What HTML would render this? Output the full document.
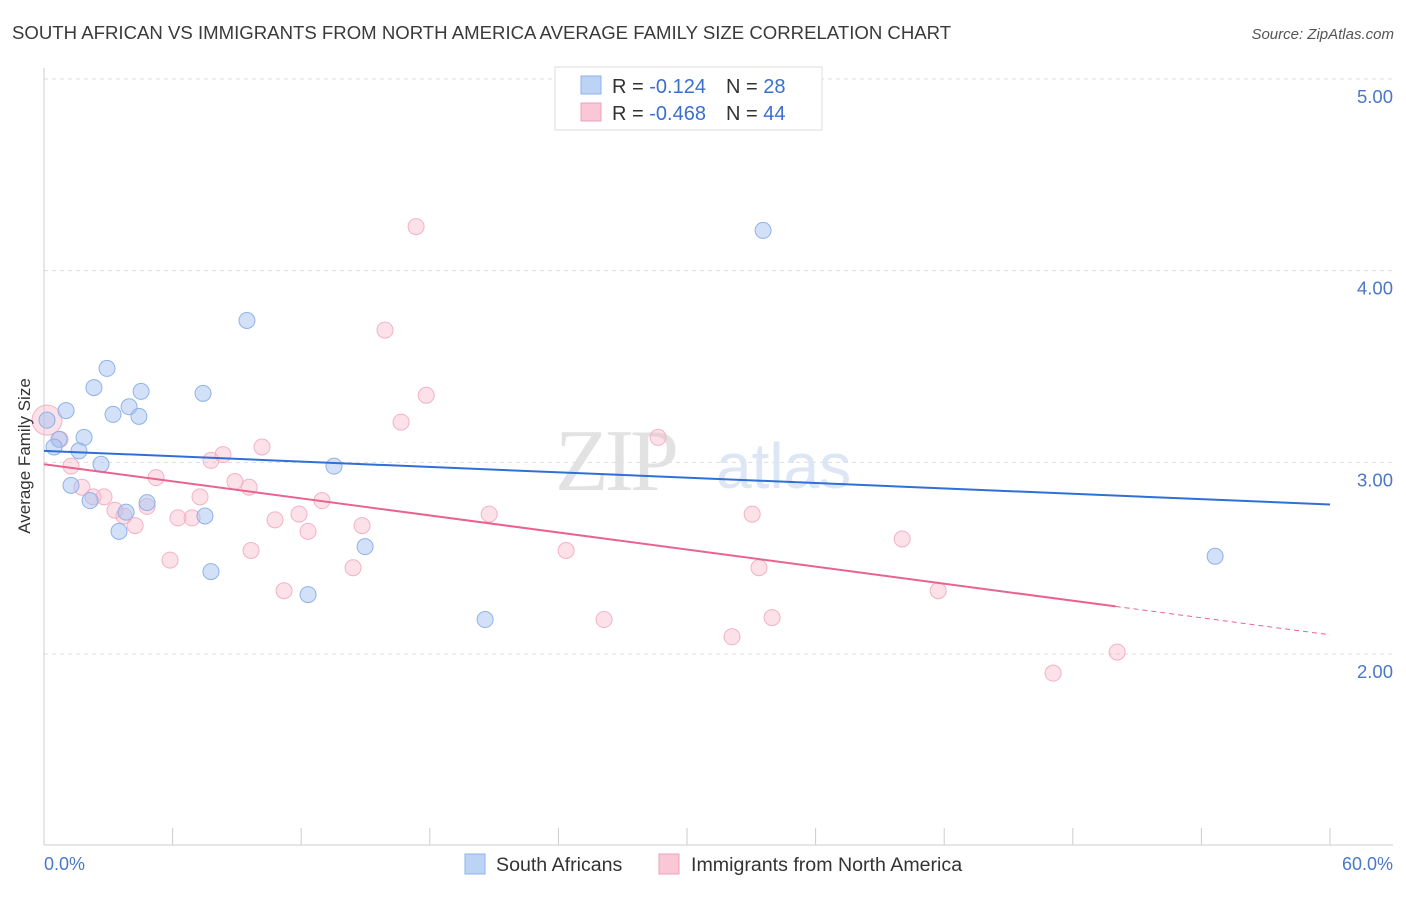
<!DOCTYPE html>
<html><head><meta charset="utf-8"><style>
body{margin:0;background:#fff;font-family:"Liberation Sans",sans-serif;}
</style></head><body>
<svg width="1406" height="892" viewBox="0 0 1406 892" xmlns="http://www.w3.org/2000/svg">
<text x="12" y="39" font-size="18.6" fill="#3a3a3a">SOUTH AFRICAN VS IMMIGRANTS FROM NORTH AMERICA AVERAGE FAMILY SIZE CORRELATION CHART</text>
<text x="1394" y="39" font-size="15" fill="#555" font-style="italic" text-anchor="end">Source: ZipAtlas.com</text>
<g id="grid"></g>
<g>
<text x="555" y="490" font-size="88" font-family="Liberation Serif,serif" fill="#e2e2e2" letter-spacing="-4">ZIP</text>
<text x="716" y="488" font-size="64" fill="#dde6f4">atlas</text>
</g>
<line x1="44" y1="68" x2="44" y2="845" stroke="#ccc"/>
<line x1="44" y1="845" x2="1393" y2="845" stroke="#ccc"/>
<g id="ticks"></g>
<g id="pts"></g>
<g id="trend"></g>
<text x="30" y="456" font-size="17" fill="#333" text-anchor="middle" transform="rotate(-90 30 456)">Average Family Size</text>
<text x="44" y="870" font-size="18" fill="#4a78c8">0.0%</text>
<text x="1393" y="870" font-size="18" fill="#4a78c8" text-anchor="end">60.0%</text>
<g>
<rect x="555" y="67" width="267" height="63" fill="#fff" stroke="#ddd"/>
<rect x="581" y="76" width="20" height="18" fill="#bcd3f5" stroke="#8fb0e8"/>
<rect x="581" y="103" width="20" height="18" fill="#f9c7d6" stroke="#f0a0b8"/>
<text x="612" y="93" font-size="20" fill="#333">R = <tspan fill="#3a6fd0">-0.124</tspan><tspan dx="20">N = </tspan><tspan fill="#3a6fd0">28</tspan></text>
<text x="612" y="120" font-size="20" fill="#333">R = <tspan fill="#3a6fd0">-0.468</tspan><tspan dx="20">N = </tspan><tspan fill="#3a6fd0">44</tspan></text>
</g>
<g>
<rect x="465" y="854" width="20" height="20" fill="#bcd3f5" stroke="#8fb0e8"/>
<text x="496" y="871" font-size="19.6" fill="#333">South Africans</text>
<rect x="659" y="854" width="20" height="20" fill="#f9c7d6" stroke="#f0a0b8"/>
<text x="691" y="871" font-size="19.6" fill="#333">Immigrants from North America</text>
</g>
</svg>
<script>
const yTicks=[2,3,4,5];
const yTickLabels=["2.00","3.00","4.00","5.00"];
const blueX=[1.03,0.70,1.87,2.33,2.94,3.22,3.97,4.53,4.43,1.63,1.26,2.66,2.15,3.50,3.83,4.81,7.42,7.51,7.79,9.47,12.32,13.53,14.98,20.58,33.55,54.64,0.47,0.14];
const blueY=[3.27,3.12,3.13,3.39,3.49,3.25,3.29,3.37,3.24,3.06,2.88,2.99,2.80,2.64,2.74,2.79,3.36,2.72,2.43,3.74,2.31,2.98,2.56,2.18,4.21,2.51,3.08,3.22];
const pinkX=[0.14,0.75,1.26,1.77,2.29,2.80,3.31,3.73,4.25,4.81,5.23,5.88,6.25,6.91,7.28,7.79,8.35,8.91,9.57,9.66,10.17,10.78,11.20,11.90,12.32,12.97,14.42,14.84,15.91,16.66,17.36,17.83,20.77,24.36,26.13,28.65,32.10,33.04,33.36,33.97,40.04,41.72,47.08,50.07];
const pinkY=[3.22,3.12,2.98,2.87,2.82,2.82,2.75,2.72,2.67,2.77,2.92,2.49,2.71,2.71,2.82,3.01,3.04,2.90,2.87,2.54,3.08,2.70,2.33,2.73,2.64,2.80,2.45,2.67,3.69,3.21,4.23,3.35,2.73,2.54,2.18,3.13,2.09,2.73,2.45,2.19,2.60,2.33,1.90,2.01];
const blueTrend=[3.06,2.78];
const pinkTrend=[2.99,2.10];
const pinkSolidEnd=50;
const NS="http://www.w3.org/2000/svg";
const xs=v=>44+v*(1286/60);
const ys=v=>79+(5-v)*191.67;
function mk(t,a,p){const e=document.createElementNS(NS,t);for(const k in a)e.setAttribute(k,a[k]);p.appendChild(e);return e;}
const grid=document.getElementById('grid');
yTicks.forEach((t,i)=>{
 const l=mk('line',{x1:44,x2:1393,y1:ys(t),y2:ys(t),stroke:'#ddd','stroke-dasharray':'4 4'},grid);
 
 
 const tx=mk('text',{x:1393,y:ys(t)+24,'font-size':18.5,fill:'#4a78c8','text-anchor':'end'},grid);
 tx.textContent=yTickLabels[i];
 
 
});
const ticks=document.getElementById('ticks');
for(let i=0;i<=10;i++){const l=mk('line',{x1:xs(i*6),x2:xs(i*6),y1:828,y2:845,stroke:'#ccc'},ticks);
 
 }
const pts=document.getElementById('pts');
pinkX.forEach((x,i)=>{const c=mk('circle',{cx:xs(x),cy:ys(pinkY[i]),r:i==0?15:8,fill:'rgba(248,180,200,0.4)',stroke:'#f2b2c6','stroke-width':1},pts);
 
 });
blueX.forEach((x,i)=>{const c=mk('circle',{cx:xs(x),cy:ys(blueY[i]),r:8,fill:'rgba(165,195,242,0.5)',stroke:'#8fb2e8','stroke-width':1},pts);
 
 });
const tr=document.getElementById('trend');
const b=mk('line',{x1:xs(0),y1:ys(blueTrend[0]),x2:xs(60),y2:ys(blueTrend[1]),stroke:'#2f6fd6','stroke-width':2},tr);


const py=x=>pinkTrend[0]+(pinkTrend[1]-pinkTrend[0])*x/60;
const p=mk('line',{x1:xs(0),y1:ys(py(0)),x2:xs(pinkSolidEnd),y2:ys(py(pinkSolidEnd)),stroke:'#e8648f','stroke-width':2},tr);


const pd=mk('line',{x1:xs(pinkSolidEnd),y1:ys(py(pinkSolidEnd)),x2:xs(60),y2:ys(py(60)),stroke:'#e8648f','stroke-width':1,'stroke-dasharray':'5 4'},tr);


</script>
</body></html>
